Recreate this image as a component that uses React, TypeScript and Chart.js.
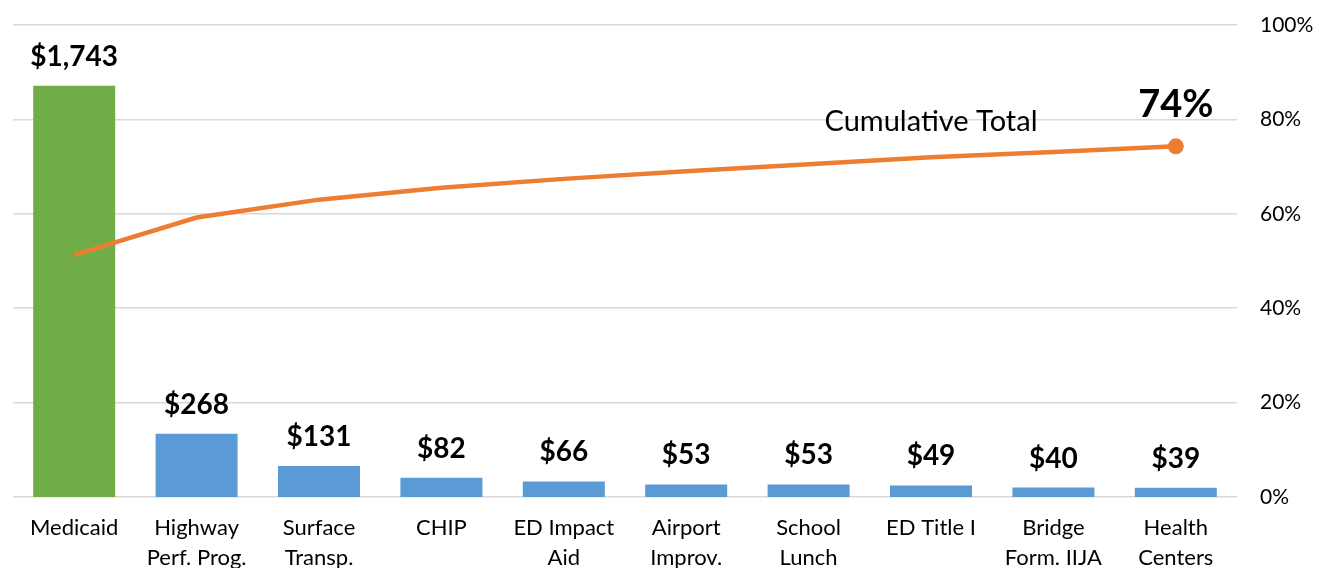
import React, { useEffect, useRef } from "react";
import { Chart, registerables } from "chart.js";

Chart.register(...registerables);

const categories: string[][] = [
  ["Medicaid"],
  ["Highway", "Perf. Prog."],
  ["Surface", "Transp."],
  ["CHIP"],
  ["ED Impact", "Aid"],
  ["Airport", "Improv."],
  ["School", "Lunch"],
  ["ED Title I"],
  ["Bridge", "Form. IIJA"],
  ["Health", "Centers"],
];
const amounts: number[] = [1743, 268, 131, 82, 66, 53, 53, 49, 40, 39];
const cumulativePct: number[] = [51.3, 59.2, 63.0, 65.5, 67.4, 69.0, 70.5, 72.0, 73.1, 74.3];
const barColors: string[] = [
  "#70AD47", "#5B9BD5", "#5B9BD5", "#5B9BD5", "#5B9BD5",
  "#5B9BD5", "#5B9BD5", "#5B9BD5", "#5B9BD5", "#5B9BD5",
];
const pctTicks: number[] = [0, 20, 40, 60, 80, 100];
const lineLabel = "Cumulative Total";

const FONT = "Lato";

const fmtMoney = (v: number) => "$" + v.toLocaleString("en-US");

const labelPlugin = {
  id: "customLabels",
  afterDatasetsDraw(chart: any) {
    const ctx = chart.ctx as CanvasRenderingContext2D;
    ctx.save();
    ctx.fillStyle = "#000000";
    ctx.textAlign = "center";
    ctx.textBaseline = "alphabetic";
    ctx.font = `bold 28px ${FONT}`;
    const barMeta = chart.getDatasetMeta(0);
    barMeta.data.forEach((bar: any, i: number) => {
      ctx.fillText(fmtMoney(amounts[i]), bar.x, bar.y - 20);
    });
    const lineMeta = chart.getDatasetMeta(1);
    const lastIdx = lineMeta.data.length - 1;
    const last = lineMeta.data[lastIdx];
    ctx.font = `bold 38px ${FONT}`;
    ctx.fillText(`${Math.round(cumulativePct[lastIdx])}%`, last.x, last.y - 29);
    ctx.font = `29px ${FONT}`;
    const tx = chart.scales.x.getPixelForValue(7);
    const ty = chart.scales.y2.getPixelForValue(77.6);
    ctx.fillText(lineLabel, tx, ty);
    ctx.restore();
  },
};

export default function App() {
  const canvasRef = useRef<HTMLCanvasElement | null>(null);

  useEffect(() => {
    if (!canvasRef.current) return;
    const lastIdx = cumulativePct.length - 1;
    const chart = new Chart(canvasRef.current, {
      type: "bar",
      data: {
        labels: categories,
        datasets: [
          {
            type: "bar",
            label: "Amount",
            data: amounts,
            backgroundColor: barColors,
            yAxisID: "y",
            categoryPercentage: 1,
            barPercentage: 0.67,
            order: 2,
          },
          {
            type: "line",
            label: lineLabel,
            data: cumulativePct,
            yAxisID: "y2",
            borderColor: "#ED7D31",
            backgroundColor: "#ED7D31",
            borderWidth: 4.5,
            pointRadius: cumulativePct.map((_, i) => (i === lastIdx ? 8 : 0)),
            pointBorderWidth: 0,
            pointBackgroundColor: "#ED7D31",
            tension: 0,
            order: 1,
          },
        ],
      },
      options: {
        animation: false,
        responsive: true,
        maintainAspectRatio: false,
        layout: { padding: { left: 13, top: 25, right: 0, bottom: 0 } },
        plugins: {
          legend: { display: false },
          tooltip: { enabled: false },
        },
        scales: {
          x: {
            grid: { display: false, drawTicks: false },
            border: { display: false },
            ticks: {
              autoSkip: false,
              maxRotation: 0,
              color: "#000000",
              padding: 16,
              font: { family: FONT, size: 22, lineHeight: 1.36 },
            },
            afterFit: (s: any) => {
              s.height = 71;
              s.paddingLeft = 0;
              s.paddingRight = 0;
            },
          },
          y: {
            display: false,
            min: 0,
            max: 2000,
          },
          y2: {
            position: "right",
            min: 0,
            max: 100,
            afterBuildTicks: (s: any) => {
              s.ticks = pctTicks.map((v) => ({ value: v }));
            },
            ticks: {
              color: "#000000",
              padding: 23,
              font: { family: FONT, size: 21 },
              callback: (v: any) => `${v}%`,
            },
            grid: { color: "#D9D9D9", lineWidth: 1.5, drawTicks: false },
            border: { display: false },
            afterFit: (s: any) => {
              s.width = 87;
              s.paddingTop = 0;
              s.paddingBottom = 0;
            },
          },
        },
      },
      plugins: [labelPlugin],
    });
    return () => chart.destroy();
  }, []);

  return (
    <div style={{ position: "fixed", left: 0, top: 0, width: 1324, height: 568, background: "#ffffff" }}>
      <canvas ref={canvasRef} />
    </div>
  );
}
